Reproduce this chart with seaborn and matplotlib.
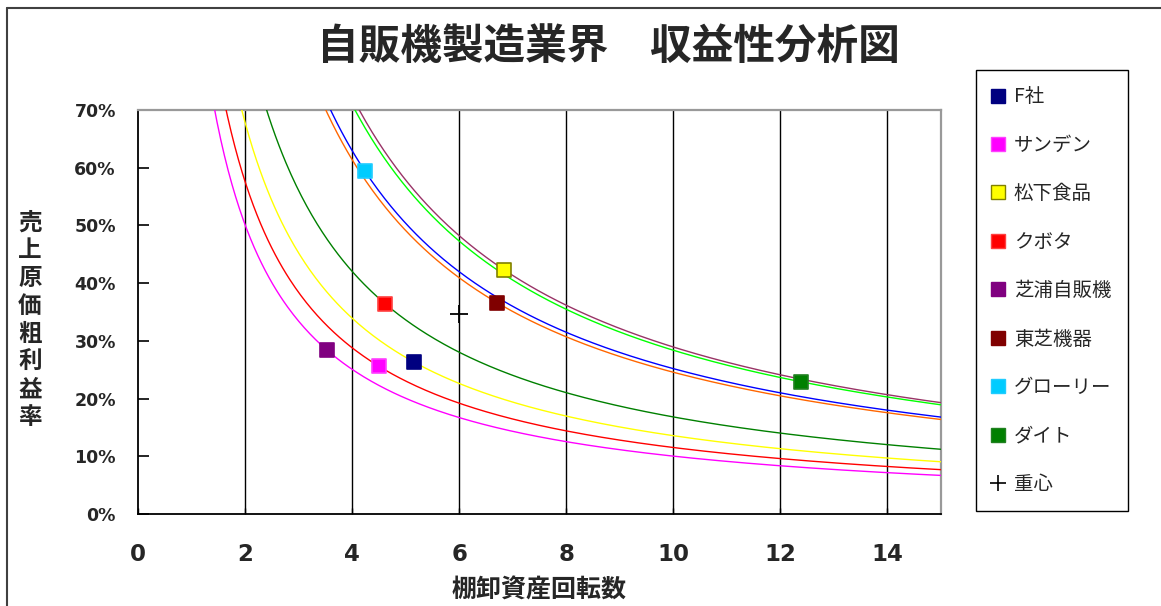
import numpy as np
import pandas as pd
import matplotlib
matplotlib.use("Agg")
import matplotlib.pyplot as plt
import seaborn as sns
from matplotlib.lines import Line2D
from matplotlib.ticker import PercentFormatter

# ---------------- data ----------------
companies = ['F社', 'サンデン', '松下食品', 'クボタ', '芝浦自販機', '東芝機器', 'グローリー', 'ダイト']
turnover = [5.16, 4.50, 6.84, 4.62, 3.53, 6.71, 4.24, 12.39]          # 棚卸資産回転数
margin = [0.263, 0.256, 0.423, 0.364, 0.284, 0.366, 0.594, 0.229]     # 売上原価粗利益率
marker_colors = ['#000080', '#FF00FF', '#FFFF00', '#FF0000', '#800080', '#800000', '#00CCFF', '#008000']
marker_edges = ['#000080', '#FF40FF', '#808000', '#FF4040', '#800080', '#800000', '#20CCFF', '#208020']
curve_colors = ['#FFFF00', '#FF0000', '#993366', '#008000', '#FF00FF', '#FF6600', '#0000FF', '#00FF00']
centroid_label = '重心'
x_ticks = [0, 2, 4, 6, 8, 10, 12, 14]
y_ticks = [0, 0.1, 0.2, 0.3, 0.4, 0.5, 0.6, 0.7]
title = '自販機製造業界　収益性分析図'
xlabel = '棚卸資産回転数'
ylabel = '売上原価粗利益率'

# ---------------- derived tables ----------------
rows = []
for c, x0, y0 in zip(companies, turnover, margin):
    k = x0 * y0  # iso-profitability curve through the company point
    xs = np.linspace(k / 0.75, 15.2, 400)
    rows.append(pd.DataFrame({'company': c, 'turnover': xs, 'margin': k / xs}))
curves = pd.concat(rows, ignore_index=True)
cx, cy = float(np.mean(turnover)), float(np.mean(margin))

# ---------------- style ----------------
sns.set_style('white')
plt.rcParams['font.family'] = ['Noto Sans CJK JP', 'DejaVu Sans']

W, H = 1161, 606
fig = plt.figure(figsize=(W / 100, H / 100), dpi=100)
ax = fig.add_axes([138 / W, 1 - 514 / H, 803 / W, 404 / H])

# curves
sns.lineplot(data=curves, x='turnover', y='margin', hue='company', hue_order=companies,
             palette=dict(zip(companies, curve_colors)), sort=False, estimator=None,
             linewidth=1.0, legend=False, ax=ax, zorder=3)
# points
for c, x0, y0, fc, ec in zip(companies, turnover, margin, marker_colors, marker_edges):
    sns.scatterplot(x=[x0], y=[y0], marker='s', s=110, color=fc, edgecolor=ec,
                    linewidth=1.2, ax=ax, zorder=5, legend=False)
sns.scatterplot(x=[cx], y=[cy], marker='+', s=180, color='black', linewidth=1.3,
                ax=ax, zorder=5, legend=False)

ax.set_xlim(0, 15)
ax.set_ylim(0, 0.7)
ax.set_xticks(x_ticks)
ax.set_yticks(y_ticks)
ax.yaxis.set_major_formatter(PercentFormatter(1.0, decimals=0))
ax.grid(False)
for xv in x_ticks[1:]:
    ax.axvline(xv, color='black', linewidth=1.0, zorder=1)

ax.tick_params(axis='y', direction='in', length=8, width=1.2, color='black', pad=16,
               left=True, labelsize=12.5)
ax.tick_params(axis='x', direction='in', length=4, width=1, color='black', pad=21,
               bottom=True, labelsize=16.5)
for lab in ax.get_xticklabels() + ax.get_yticklabels():
    lab.set_fontfamily('DejaVu Sans')
    lab.set_fontweight('bold')

ax.spines['left'].set_color('black')
ax.spines['bottom'].set_color('black')
ax.spines['left'].set_linewidth(1.3)
ax.spines['bottom'].set_linewidth(1.3)
ax.spines['top'].set_color('#999999')
ax.spines['right'].set_color('#999999')
ax.spines['top'].set_linewidth(1.6)
ax.spines['right'].set_linewidth(1.6)

ax.set_xlabel(xlabel, fontsize=18, fontweight='bold', labelpad=9)
ax.set_ylabel('\n'.join(ylabel), fontsize=17, fontweight='bold', rotation=0,
              linespacing=1.2, va='center', ha='center')
ax.yaxis.set_label_coords((30 - 138) / 803, (514 - 320) / 404)

fig.text(608 / W, 1 - 47 / H, title, fontsize=30, fontweight='bold', ha='center', va='center')

# legend
handles = [Line2D([], [], linestyle='none', marker='s', markersize=9.5,
                  markerfacecolor=fc, markeredgecolor=ec, markeredgewidth=1.0)
           for fc, ec in zip(marker_colors, marker_edges)]
handles.append(Line2D([], [], linestyle='none', marker='+', markersize=12,
                      color='black', markeredgewidth=1.2))
leg = fig.legend(handles, companies + [centroid_label], loc='upper left',
                 bbox_to_anchor=(976 / W, 1 - 70 / H, 152 / W, 0.0001), mode='expand',
                 frameon=True, fancybox=False, edgecolor='black', framealpha=1,
                 fontsize=14, borderpad=0.85, labelspacing=1.41, handlelength=0.55,
                 handletextpad=0.55, borderaxespad=0)
leg.get_frame().set_linewidth(1.0)

# outer border (top and left edges visible)
fig.add_artist(Line2D([7 / W, 7 / W], [0, 1 - 8 / H], color='#404040', linewidth=1.5,
                      transform=fig.transFigure))
fig.add_artist(Line2D([7 / W, 1], [1 - 8 / H, 1 - 8 / H], color='#404040', linewidth=1.5,
                      transform=fig.transFigure))

fig.savefig('out.png', dpi=100)
